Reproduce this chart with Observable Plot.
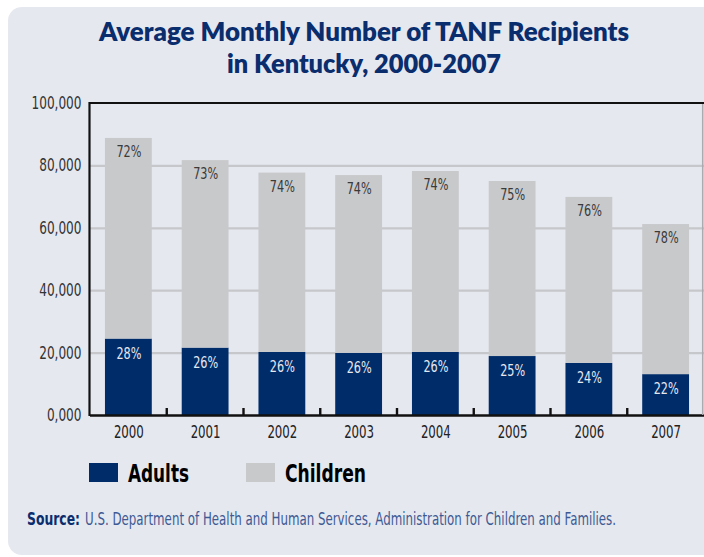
<!DOCTYPE html>
<html>
<head>
<meta charset="utf-8">
<script src="https://cdn.jsdelivr.net/npm/d3@7"></script>
<script src="https://cdn.jsdelivr.net/npm/@observablehq/plot@0.6"></script>
<style>
  html, body { margin: 0; padding: 0; background: #ffffff; }
  body { width: 704px; height: 557px; position: relative; overflow: hidden; }
  #panel { position: absolute; left: 8px; top: 7px; width: 740px; height: 548px; border-radius: 14px; background: #e6e8f0; }
  .abs { position: absolute; left: 0; }
  #title { top: 0; }
  #chart { top: 85px; }
  #legend { top: 450px; }
  #source { top: 500px; }
</style>
</head>
<body>
<div id="panel"></div>
<svg id="title" class="abs" width="704" height="85"></svg>
<div id="chart" class="abs"></div>
<svg id="legend" class="abs" width="704" height="45"></svg>
<svg id="source" class="abs" width="704" height="40"></svg>
<script>
// ---- data ----
const years = ["2000", "2001", "2002", "2003", "2004", "2005", "2006", "2007"];
const adults = [24500, 21600, 20200, 19900, 20200, 18900, 16700, 13100];
const children = [64300, 60100, 57500, 57000, 58000, 56100, 53200, 48100];
const adultPct = ["28%", "26%", "26%", "26%", "26%", "25%", "24%", "22%"];
const childPct = ["72%", "73%", "74%", "74%", "74%", "75%", "76%", "78%"];
const groups = ["Adults", "Children"];
const yTicks = [0, 20000, 40000, 60000, 80000, 100000];
const yTickLabels = ["0,000", "20,000", "40,000", "60,000", "80,000", "100,000"];
const gridValues = [20000, 40000, 60000, 80000];
const titleLines = ["Average Monthly Number of TANF Recipients", "in Kentucky, 2000-2007"];
const sourceLabel = "Source:";
const sourceText = "U.S. Department of Health and Human Services, Administration for Children and Families.";

const navy = "#002d6a";
const gray = "#c8c9cb";
const narrow = "'Liberation Sans Narrow', 'DejaVu Sans Condensed', 'Roboto Condensed', 'Liberation Sans', sans-serif";

const tidy = [];
years.forEach((yr, i) => {
  tidy.push({year: yr, group: "Adults", value: adults[i], top: adults[i], pct: adultPct[i]});
  tidy.push({year: yr, group: "Children", value: children[i], top: adults[i] + children[i], pct: childPct[i]});
});

// frame lines and between-band ticks, from the y scale and the plot dimensions
function frameMark(index, scales, values, dims) {
  const y = scales.y;
  const g = d3.create("svg:g").attr("aria-label", "frame");
  const left = dims.marginLeft, right = dims.width - dims.marginRight;
  const y0 = y(0), yTop = y(100000);
  g.append("line").attr("x1", right - 1.3).attr("x2", right - 1.3).attr("y1", yTop).attr("y2", y0)
    .attr("stroke", "#a9abb0").attr("stroke-width", 1.5);
  g.append("line").attr("x1", left - 1).attr("x2", right).attr("y1", yTop).attr("y2", yTop)
    .attr("stroke", "#111").attr("stroke-width", 2.2);
  g.append("line").attr("x1", left - 0.5).attr("x2", left - 0.5).attr("y1", yTop - 1).attr("y2", y0 + 1)
    .attr("stroke", "#111").attr("stroke-width", 2.2);
  // outer padding = inner padding / 2, so band boundaries lie on the step grid
  const n = years.length, st = (right - left) / n;
  for (let i = 1; i < n; i++) {
    const bx = left + i * st;
    g.append("line").attr("x1", bx).attr("x2", bx).attr("y1", y0).attr("y2", y0 - 7)
      .attr("stroke", "#111").attr("stroke-width", 2.4);
  }
  return g.node();
}

const plot = Plot.plot({
  width: 704,
  height: 360,
  marginTop: 18,
  marginBottom: 30,
  marginLeft: 90,
  marginRight: 0,
  style: {background: "transparent", fontFamily: narrow, fontSize: "17px", color: "#333"},
  x: {domain: years, paddingInner: 0.39, paddingOuter: 0.195, round: false, label: null, axis: null},
  y: {domain: [0, 100000], label: null, axis: null},
  color: {domain: groups, range: [navy, gray]},
  marks: [
    Plot.ruleY(gridValues, {stroke: "#c6c7ca", strokeWidth: 2.2}),
    Plot.barY(tidy, {x: "year", y: "value", fill: "group", order: groups}),
    Plot.text(tidy.filter(d => d.group === "Children"), {x: "year", y: "top", text: "pct", lineAnchor: "top", dy: 7, fill: "#3a3a3a", fontSize: 16.5}),
    Plot.text(tidy.filter(d => d.group === "Adults"), {x: "year", y: "top", text: "pct", lineAnchor: "top", dy: 8, fill: "#e6e8f0", fontSize: 16.5}),
    Plot.axisY(yTicks, {tickFormat: d => yTickLabels[yTicks.indexOf(d)], tickSize: 0, tickPadding: 9, fontSize: 17, fill: "#333", label: null}),
    Plot.axisX({tickSize: 0, tickPadding: 10, fontSize: 17, fill: "#222", label: null}),
    Plot.ruleY([0], {stroke: "#111", strokeWidth: 2.4}),
    frameMark
  ]
});
document.getElementById("chart").appendChild(plot);

// condense text groups to the reference's condensed face widths
function condense(nodes, refText, targetWidth) {
  if (!nodes.length) return;
  let ref = nodes.find(n => n.textContent === refText) || nodes[0];
  const w = ref.getComputedTextLength();
  if (!(w > 0)) return;
  const f = Math.min(1, targetWidth / w);
  nodes.forEach(n => {
    const l = n.getComputedTextLength();
    n.setAttribute("textLength", (l * f).toFixed(2));
    n.setAttribute("lengthAdjust", "spacingAndGlyphs");
  });
}
const allTexts = Array.from(plot.querySelectorAll("text"));
condense(allTexts.filter(n => yTickLabels.includes(n.textContent)), "100,000", 50);
condense(allTexts.filter(n => years.includes(n.textContent)), "2000", 30);
condense(allTexts.filter(n => adultPct.includes(n.textContent) || childPct.includes(n.textContent)), "72%", 25);

// ---- title ----
const ns = "http://www.w3.org/2000/svg";
function addText(svg, str, attrs) {
  const t = document.createElementNS(ns, "text");
  for (const k in attrs) t.setAttribute(k, attrs[k]);
  t.textContent = str;
  svg.appendChild(t);
  return t;
}
const titleSvg = document.getElementById("title");
const titleFont = "Lato, 'Open Sans', 'Liberation Sans', sans-serif";
addText(titleSvg, titleLines[0], {x: 99, y: 40.5, "font-family": titleFont, "font-weight": 800, "font-size": 26.5, fill: "#0a2d6e", textLength: 530, lengthAdjust: "spacingAndGlyphs"});
addText(titleSvg, titleLines[1], {x: 227, y: 73, "font-family": titleFont, "font-weight": 800, "font-size": 26.5, fill: "#0a2d6e", textLength: 274, lengthAdjust: "spacingAndGlyphs"});

// ---- legend ----
const legendSvg = document.getElementById("legend");
const legendItems = [
  {label: groups[0], color: navy, sx: 89, tx: 128, tw: 61},
  {label: groups[1], color: gray, sx: 246, tx: 285, tw: 81}
];
legendItems.forEach(it => {
  const r = document.createElementNS(ns, "rect");
  r.setAttribute("x", it.sx); r.setAttribute("y", 13); r.setAttribute("width", 29); r.setAttribute("height", 19);
  r.setAttribute("fill", it.color);
  legendSvg.appendChild(r);
  addText(legendSvg, it.label, {x: it.tx, y: 32, "font-family": narrow, "font-weight": 700, "font-size": 24, fill: "#000", textLength: it.tw, lengthAdjust: "spacingAndGlyphs"});
});

// ---- source ----
const sourceSvg = document.getElementById("source");
addText(sourceSvg, sourceLabel, {x: 27, y: 25, "font-family": narrow, "font-weight": 700, "font-size": 17, fill: "#0a2d6e", textLength: 53, lengthAdjust: "spacingAndGlyphs"});
addText(sourceSvg, sourceText, {x: 85, y: 25, "font-family": narrow, "font-size": 17, fill: "#3d5a94", textLength: 531, lengthAdjust: "spacingAndGlyphs"});
</script>
</body>
</html>
